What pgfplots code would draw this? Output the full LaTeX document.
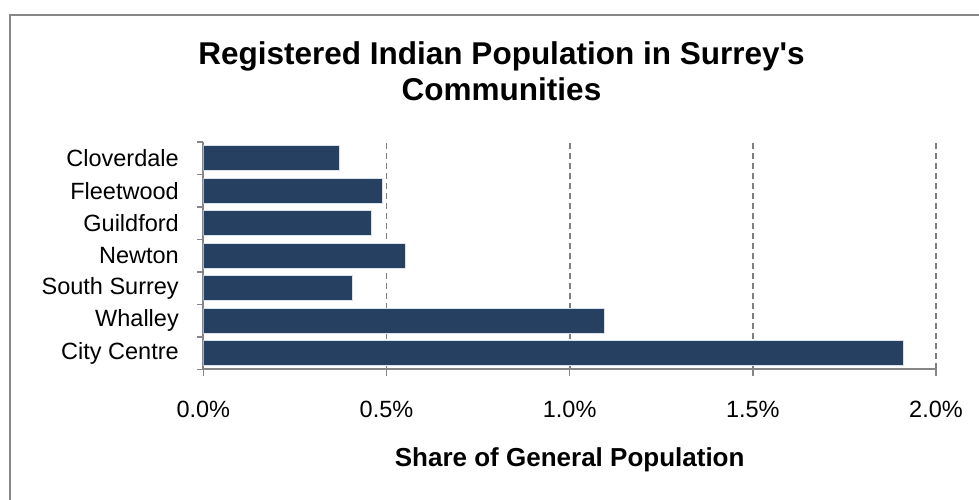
\documentclass[border=0pt]{standalone}
\usepackage{fontspec}
\setmainfont{Liberation Sans}[Ligatures=TeXOff]
\usepackage{pgfplots}
\pgfplotsset{compat=1.18}
\definecolor{barblue}{HTML}{264061}
\definecolor{axisgray}{HTML}{878787}
\definecolor{gridgray}{HTML}{7F7F7F}
\definecolor{baredge}{HTML}{D9E1EC}
\begin{document}
\begin{tikzpicture}[x=1pt,y=1pt]
\path[use as bounding box] (0,0) rectangle (979,500);
\draw[axisgray, line width=2pt] (9.5,0) -- (9.5,485) -- (980,485);
\begin{axis}[
  at={(203.3pt,130.5pt)}, anchor=south west,
  scale only axis, width=732.7pt, height=227.5pt,
  xbar, bar width=0.77,
  xmin=0, xmax=2, ymin=-0.5, ymax=6.5,
  axis lines*=left,
  axis line style={axisgray, line width=2pt},
  tick align=outside,
  major tick length=7pt, minor tick length=6pt,
  xtick={0,0.5,1,1.5,2},
  xticklabels={0.0\%,0.5\%,1.0\%,1.5\%,2.0\%},
  ytick={0,1,2,3,4,5,6},
  yticklabels={City Centre,Whalley,South Surrey,Newton,Guildford,Fleetwood,Cloverdale},
  minor ytick={-0.5,0.5,1.5,2.5,3.5,4.5,5.5,6.5},
  major y tick style={draw=none},
  minor y tick style={axisgray, line width=1.5pt},
  major x tick style={axisgray, line width=1.5pt},
  xmajorgrids,
  x grid style={gridgray, dash pattern=on 6pt off 4pt, line width=1.8pt},
  tick label style={font=\fontsize{23.5}{28}\selectfont, black},
  yticklabel style={xshift=-14pt},
  xticklabel style={yshift=-21pt},
]
\addplot[fill=barblue, draw=baredge, line width=0.75pt] coordinates {
(1.910,0) (1.095,1) (0.408,2) (0.552,3) (0.459,4) (0.488,5) (0.371,6)};
\end{axis}
\node[anchor=base, font=\bfseries\fontsize{31.5}{36}\selectfont] at (501.5,435) {Registered Indian Population in Surrey's};
\node[anchor=base, font=\bfseries\fontsize{31.5}{36}\selectfont] at (501.5,399) {Communities};
\node[anchor=base, font=\bfseries\fontsize{26}{30}\selectfont] at (569.7,33.3) {Share of General Population};
\end{tikzpicture}
\end{document}
